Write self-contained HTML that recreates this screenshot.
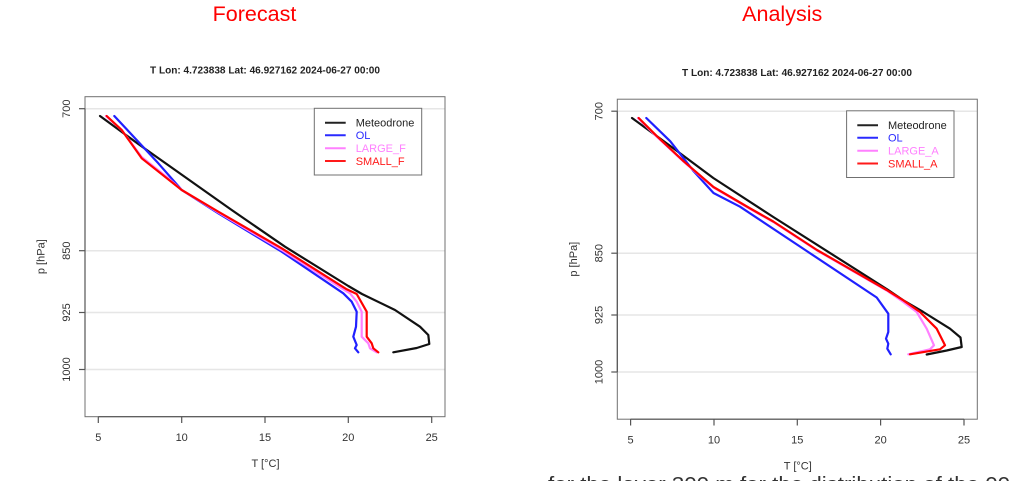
<!DOCTYPE html>
<html>
<head>
<meta charset="utf-8">
<style>
  html, body { margin: 0; padding: 0; background: #ffffff; }
  body { width: 1024px; height: 481px; overflow: hidden; }
  svg { display: block; }
  text { font-family: "Liberation Sans", Arial, sans-serif; }
</style>
</head>
<body>
<svg width="1024" height="481" viewBox="0 0 1024 481" xmlns="http://www.w3.org/2000/svg">
  <rect width="1024" height="481" fill="#ffffff"/>

  <!-- headings -->
  <text x="254.5" y="21" font-size="21.5" fill="#ff0000" text-anchor="middle">Forecast</text>
  <text x="782.2" y="21" font-size="21.5" fill="#ff0000" text-anchor="middle">Analysis</text>

  <defs>
    <g id="frame">
      <!-- grid -->
      <g stroke="#e6e6e6" stroke-width="1.5">
        <line x1="85" y1="108.7" x2="445" y2="108.7"/>
        <line x1="85" y1="250.7" x2="445" y2="250.7"/>
        <line x1="85" y1="312.5" x2="445" y2="312.5"/>
        <line x1="85" y1="369.5" x2="445" y2="369.5"/>
      </g>
      <!-- box -->
      <rect x="85" y="96.7" width="360" height="320" fill="none" stroke="#707070" stroke-width="1"/>
      <!-- axes -->
      <g stroke="#555" stroke-width="1.2">
        <line x1="85" y1="108.7" x2="85" y2="369.5"/>
        <line x1="79" y1="108.7" x2="85" y2="108.7"/>
        <line x1="79" y1="250.7" x2="85" y2="250.7"/>
        <line x1="79" y1="312.5" x2="85" y2="312.5"/>
        <line x1="79" y1="369.5" x2="85" y2="369.5"/>
        <line x1="98.3" y1="416.7" x2="431.7" y2="416.7"/>
        <line x1="98.3" y1="416.7" x2="98.3" y2="423"/>
        <line x1="181.7" y1="416.7" x2="181.7" y2="423"/>
        <line x1="265" y1="416.7" x2="265" y2="423"/>
        <line x1="348.3" y1="416.7" x2="348.3" y2="423"/>
        <line x1="431.7" y1="416.7" x2="431.7" y2="423"/>
      </g>
      <!-- tick labels -->
      <g font-size="11" fill="#333" text-anchor="middle">
        <text x="98.3" y="441">5</text>
        <text x="181.7" y="441">10</text>
        <text x="265" y="441">15</text>
        <text x="348.3" y="441">20</text>
        <text x="431.7" y="441">25</text>
        <text transform="translate(70,108.7) rotate(-90)">700</text>
        <text transform="translate(70,250.7) rotate(-90)">850</text>
        <text transform="translate(70,312.5) rotate(-90)">925</text>
        <text transform="translate(70,369.5) rotate(-90)">1000</text>
        <text x="265.5" y="467">T [°C]</text>
        <text transform="translate(44.5,256.7) rotate(-90)">p [hPa]</text>
      </g>
      <!-- legend box -->
      <rect x="314.3" y="108.3" width="107.4" height="66.7" fill="#ffffff" stroke="#707070" stroke-width="1"/>
      <g stroke-width="2">
        <line x1="325" y1="122.7" x2="345.7" y2="122.7" stroke="#222"/>
        <line x1="325" y1="135.2" x2="345.7" y2="135.2" stroke="#2a2aff"/>
        <line x1="325" y1="148.3" x2="345.7" y2="148.3" stroke="#ff80ff"/>
        <line x1="325" y1="161" x2="345.7" y2="161" stroke="#ff1a1a"/>
      </g>
      <g font-size="11">
        <text x="355.7" y="126.5" fill="#222">Meteodrone</text>
        <text x="355.7" y="139" fill="#2a2aff">OL</text>
      </g>
    </g>
  </defs>

  <!-- LEFT PLOT -->
  <use href="#frame"/>
  <text x="265" y="73.6" font-size="10" font-weight="bold" fill="#222" text-anchor="middle" textLength="230" lengthAdjust="spacingAndGlyphs">T Lon: 4.723838 Lat: 46.927162 2024-06-27 00:00</text>
  <g font-size="11">
    <text x="355.7" y="152" fill="#ff80ff">LARGE_F</text>
    <text x="355.7" y="165" fill="#ff1a1a">SMALL_F</text>
  </g>
  <g fill="none" stroke-width="2.2" stroke-linejoin="round" stroke-linecap="round">
    <polyline stroke="#111" points="100,116 138.3,144 185,177 231.7,210 285,246.7 348.3,286 362,294 395,310 420,326.7 428.3,335 429.3,344 416.7,348 393.3,352.3"/>
    <polyline stroke="#2020ff" points="114.3,116 138.3,141.7 158.3,163.3 181.7,190 218.3,213.3 281.7,251.7 343.3,293.3 351.7,301.7 356.7,311.7 356,326.7 353.3,336.7 356.7,345 355,348.3 358.3,352.3"/>
    <polyline stroke="#ff80ff" points="106,116 121.7,130 141.7,157 166.7,177 181.7,190 218.3,212.5 281.7,250 346,291 350,293.3 356.7,301.7 361.7,311.7 361.7,336.7 368.3,343.3 370,348.3 376.7,352.3"/>
    <polyline stroke="#ff0000" points="106.7,116 121.7,130 141.7,158.3 181.7,190 218.3,211.7 281.7,248.3 346.7,289.3 356.7,294 366.7,311.7 366.7,336.7 371.7,343.3 373.3,348.3 378.3,352.3"/>
  </g>

  <!-- RIGHT PLOT -->
  <use href="#frame" transform="translate(532.3,2.5)"/>
  <text x="797" y="76.2" font-size="10" font-weight="bold" fill="#222" text-anchor="middle" textLength="230" lengthAdjust="spacingAndGlyphs">T Lon: 4.723838 Lat: 46.927162 2024-06-27 00:00</text>
  <g font-size="11" transform="translate(532.3,2.5)">
    <text x="355.7" y="152" fill="#ff80ff">LARGE_A</text>
    <text x="355.7" y="165" fill="#ff1a1a">SMALL_A</text>
  </g>
  <g fill="none" stroke-width="2.2" stroke-linejoin="round" stroke-linecap="round">
    <polyline stroke="#111" points="632,118 670.3,146 713.3,178 773.3,217 886.7,289 903.3,300.3 923.3,312 950,328.7 960.5,337.5 961.7,347 946.7,350.5 926.7,354.5"/>
    <polyline stroke="#2020ff" points="646.3,118 670.3,141.3 693.7,171.3 713.5,193 740,206.7 806.7,251 876.7,297.5 888.3,313.7 888.3,332 886,338.7 888.3,343.7 887.3,348.7 890.7,354.3"/>
    <polyline stroke="#ff80ff" points="638,118 656.5,136.5 683.7,161.8 713.5,187.5 750.3,209 773.3,222 817,250.5 886.7,290.5 903.3,302 916.7,312 926.7,328.7 934,345.3 930,349.3 908.3,354.3"/>
    <polyline stroke="#ff0000" points="638.7,118 657,136.3 683.7,161.3 713.5,187 750.3,208.5 773.3,221.5 817,250 886.7,290 903.3,300.3 920,312 936.7,328.7 945,345.3 940,349.3 910,354.3"/>
  </g>

  <!-- cut-off body text at the bottom -->
  <text x="548" y="491" font-size="20" fill="#333" textLength="462" lengthAdjust="spacingAndGlyphs">for the layer 300 m for the distribution of the 00</text>
</svg>
</body>
</html>
